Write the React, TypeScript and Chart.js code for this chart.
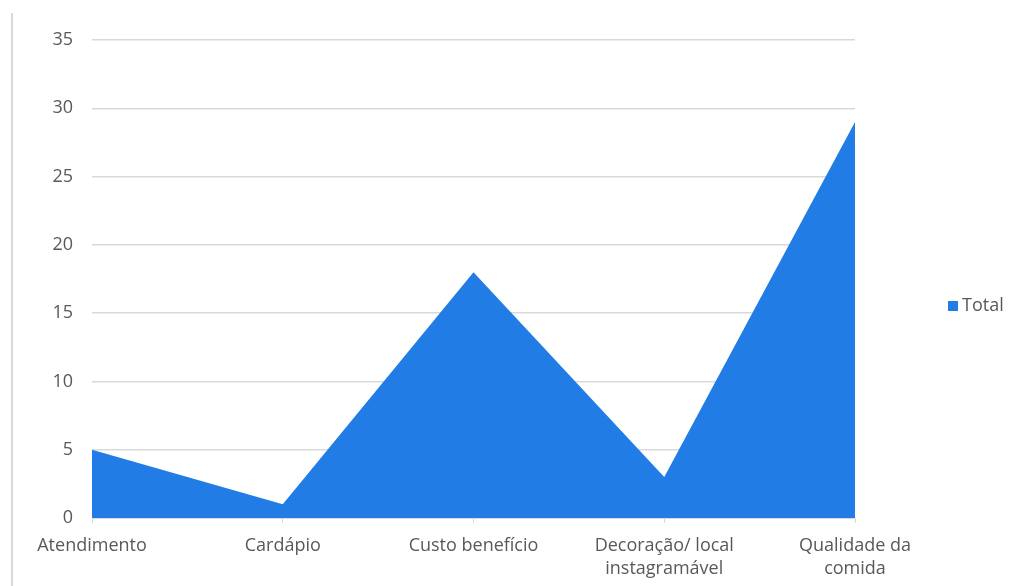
import React, { useEffect, useRef } from "react";
import { Chart, registerables } from "chart.js";

Chart.register(...registerables);

const categories: (string | string[])[] = [
  "Atendimento",
  "Cardápio",
  "Custo benefício",
  ["Decoração/ local", "instagramável"],
  ["Qualidade da", "comida"],
];
const totalValues = [5, 1, 18, 3, 29];
const seriesLabel = "Total";
const yMax = 35;
const yStep = 5;

const FONT = "'Open Sans', 'Noto Sans', sans-serif";
const BLUE = "#217CE6";
const GRID = "#d9d9d9";
const TEXT = "#595959";

const legendPlugin = {
  id: "sideLegend",
  afterDraw(chart: any) {
    const ctx = chart.ctx;
    const ds = chart.data.datasets[0];
    ctx.save();
    ctx.fillStyle = BLUE;
    ctx.fillRect(948, 301, 10, 10);
    ctx.fillStyle = TEXT;
    ctx.font = `18px ${FONT}`;
    ctx.textBaseline = "middle";
    ctx.textAlign = "left";
    ctx.fillText(ds.label, 962, 306);
    ctx.restore();
  },
};

export default function App() {
  const ref = useRef<HTMLCanvasElement | null>(null);
  useEffect(() => {
    if (!ref.current) return;
    const chart = new Chart(ref.current, {
      type: "line",
      data: {
        labels: categories,
        datasets: [
          {
            label: seriesLabel,
            data: totalValues,
            fill: "origin",
            backgroundColor: BLUE,
            borderColor: BLUE,
            borderWidth: 0,
            pointRadius: 0,
            tension: 0,
          },
        ],
      },
      options: {
        animation: false,
        responsive: false,
        maintainAspectRatio: false,
        layout: { padding: { left: 0, right: 162, top: 40, bottom: 0 } },
        plugins: { legend: { display: false }, tooltip: { enabled: false } },
        scales: {
          x: {
            type: "category",
            offset: false,
            afterFit: (s: any) => {
              s.height = 68;
            },
            grid: {
              drawOnChartArea: false,
              drawTicks: true,
              tickLength: 5,
              color: GRID,
            },
            border: { display: true, color: GRID },
            ticks: {
              color: TEXT,
              font: { family: FONT, size: 18, lineHeight: 1.28 },
              padding: 11,
              maxRotation: 0,
              autoSkip: false,
            },
          },
          y: {
            min: 0,
            max: yMax,
            afterFit: (s: any) => {
              s.width = 92;
            },
            grid: { color: GRID, drawTicks: false, lineWidth: 1.5 },
            border: { display: false },
            ticks: {
              stepSize: yStep,
              color: TEXT,
              font: { family: FONT, size: 18 },
              padding: 19,
            },
          },
        },
      },
      plugins: [legendPlugin],
    });
    return () => chart.destroy();
  }, []);
  return (
    <div style={{ position: "fixed", left: 0, top: 0, width: 1017, height: 586, background: "#fff" }}>
      <div
        style={{
          position: "absolute",
          left: 11,
          top: 13,
          width: 0,
          height: 573,
          borderLeft: "2px solid #d9d9d9",
        }}
      />
      <canvas ref={ref} width={1017} height={586} style={{ display: "block" }} />
    </div>
  );
}
